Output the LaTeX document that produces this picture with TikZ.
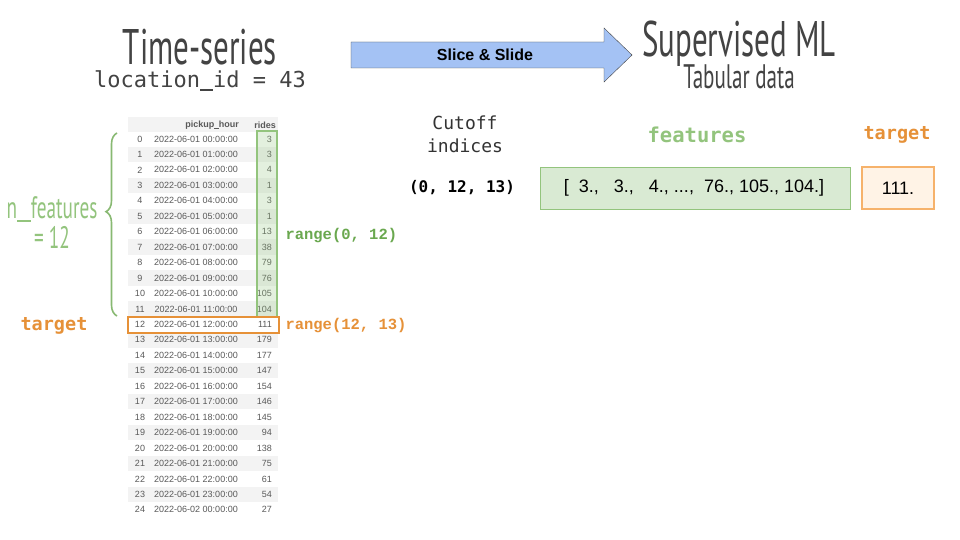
\documentclass[tikz,border=0pt]{standalone}
\usepackage{fontspec}
\setmainfont{Liberation Sans}
\setmonofont{DejaVu Sans Mono}
\newfontfamily\titlefont[FakeStretch=0.62]{PT Sans}
\newfontfamily\codefont{Liberation Mono}
\usetikzlibrary{decorations.pathreplacing}
\definecolor{tsgray}{HTML}{434343}
\definecolor{tsgreen}{HTML}{93C47D}
\definecolor{tsdkgreen}{HTML}{6AA84F}
\definecolor{tsorange}{HTML}{E69138}
\definecolor{tslight}{HTML}{F6B26B}
\definecolor{tsblue}{HTML}{A4C2F4}
\definecolor{tsrow}{HTML}{F3F3F3}
\definecolor{tsfill}{HTML}{D9EAD3}
\definecolor{tspeach}{HTML}{FFF3E6}
\newcommand\uscore[1]{\rule[-0.12em]{#1}{0.07em}}

\begin{document}
\begin{tikzpicture}[x=1pt,y=-1pt,
  cell/.style={text=black!65,font=\fontsize{9}{9}\selectfont,inner sep=0pt},
  title/.style={tsgray,anchor=base,inner sep=0pt}]
\useasboundingbox[fill=white] (0,0) rectangle (960,540);
% Titles
\node[title] (ts) at (200,65) {\titlefont\fontsize{50}{50}\selectfont Time-series};
\node[title] (loc) at (200,88) {\ttfamily\fontsize{22}{22}\selectfont location\uscore{0.6em}id = 43};
\node[title] (sml) at (739,57) {\titlefont\fontsize{50}{50}\selectfont Supervised ML};
\node[title] (tab) at (739,89) {\titlefont\fontsize{34}{34}\selectfont Tabular data};
% Slice & Slide arrow
\draw[tsgray,fill=tsblue,line join=miter] (351,42) -- (604,42) -- (604,28) -- (632,55) -- (604,82) -- (604,68) -- (351,68) -- cycle;
\node (slide) at (485,55) {\bfseries\fontsize{16}{16}\selectfont Slice \& Slide};
% Table
\fill[tsrow] (128,117) rectangle (278,132);
\foreach \i in {1,3,...,23} \fill[tsrow] (128,{131.3+15.45*\i}) rectangle (278,{146.7+15.45*\i});
\node[cell,anchor=east] (hhour) at (239,125) {\bfseries pickup\uscore{0.5em}hour};
\node[cell,anchor=east] (hrides) at (276,125) {\bfseries rides};
\foreach \i/\d/\r in {0/2022-06-01 00:00:00/3, 1/2022-06-01 01:00:00/3, 2/2022-06-01 02:00:00/4,
  3/2022-06-01 03:00:00/1, 4/2022-06-01 04:00:00/3, 5/2022-06-01 05:00:00/1, 6/2022-06-01 06:00:00/13,
  7/2022-06-01 07:00:00/38, 8/2022-06-01 08:00:00/79, 9/2022-06-01 09:00:00/76, 10/2022-06-01 10:00:00/105,
  11/2022-06-01 11:00:00/104, 12/2022-06-01 12:00:00/111, 13/2022-06-01 13:00:00/179, 14/2022-06-01 14:00:00/177,
  15/2022-06-01 15:00:00/147, 16/2022-06-01 16:00:00/154, 17/2022-06-01 17:00:00/146, 18/2022-06-01 18:00:00/145,
  19/2022-06-01 19:00:00/94, 20/2022-06-01 20:00:00/138, 21/2022-06-01 21:00:00/75, 22/2022-06-01 22:00:00/61,
  23/2022-06-01 23:00:00/54, 24/2022-06-02 00:00:00/27}
{
  \node[cell] (idx\i) at (140,{139+15.45*\i}) {\i};
  \node[cell] (hour\i) at (196,{139+15.45*\i}) {\d};
  \node[cell,anchor=east] (ride\i) at (272,{139+15.45*\i}) {\r};
}
% Feature window and target row
\draw[tsgreen,line width=1.3pt,fill=tsgreen,fill opacity=0.25] (257,131) rectangle (277,316.5);
\draw[tsorange,line width=1.6pt] (128,317) rectangle (279,333);
\draw[tsdkgreen!80,line width=1.6pt,decorate,decoration={brace,amplitude=11pt,aspect=0.57}] (117,316) -- (117,133);
\node[tsgreen,anchor=base] (nfeat) at (52,218) {\titlefont\fontsize{31}{31}\selectfont n\uscore{0.45em}features};
\node[tsgreen,anchor=base] (neq) at (52,248) {\titlefont\fontsize{31}{31}\selectfont = 12};
\node[tsorange] (tleft) at (54,326) {\ttfamily\bfseries\fontsize{18.5}{18.5}\selectfont target};
\node[tsdkgreen,anchor=west] (rfeat) at (282,236) {\codefont\bfseries\fontsize{15.5}{15.5}\selectfont range(0, 12)};
\node[tsorange,anchor=west] (rtarg) at (282,326) {\codefont\bfseries\fontsize{15.5}{15.5}\selectfont range(12, 13)};
% Cutoff indices and tabular row
\node[black!80] (cut) at (465,123) {\ttfamily\fontsize{18}{18}\selectfont Cutoff};
\node[black!80] (ind) at (465,146) {\ttfamily\fontsize{18}{18}\selectfont indices};
\node (triple) at (462,188) {\ttfamily\bfseries\fontsize{16}{16}\selectfont (0, 12, 13)};
\node[tsgreen] (feat) at (697,135) {\ttfamily\bfseries\fontsize{20.5}{20.5}\selectfont features};
\node[tsorange] (targ) at (897,135) {\ttfamily\bfseries\fontsize{18.5}{18.5}\selectfont target};
\draw[tsgreen,thick,fill=tsfill] (540,167) rectangle (850,209);
\draw[tslight,very thick,fill=tspeach] (862,167) rectangle (934,209);
\node (fvec) at (694,188) {\fontsize{18}{18}\selectfont [\ \ 3.,\ \ \ 3.,\ \ \ 4., ...,\ \ 76., 105., 104.]};
\node (tval) at (898,188) {\fontsize{18}{18}\selectfont 111.};
\end{tikzpicture}
\end{document}
